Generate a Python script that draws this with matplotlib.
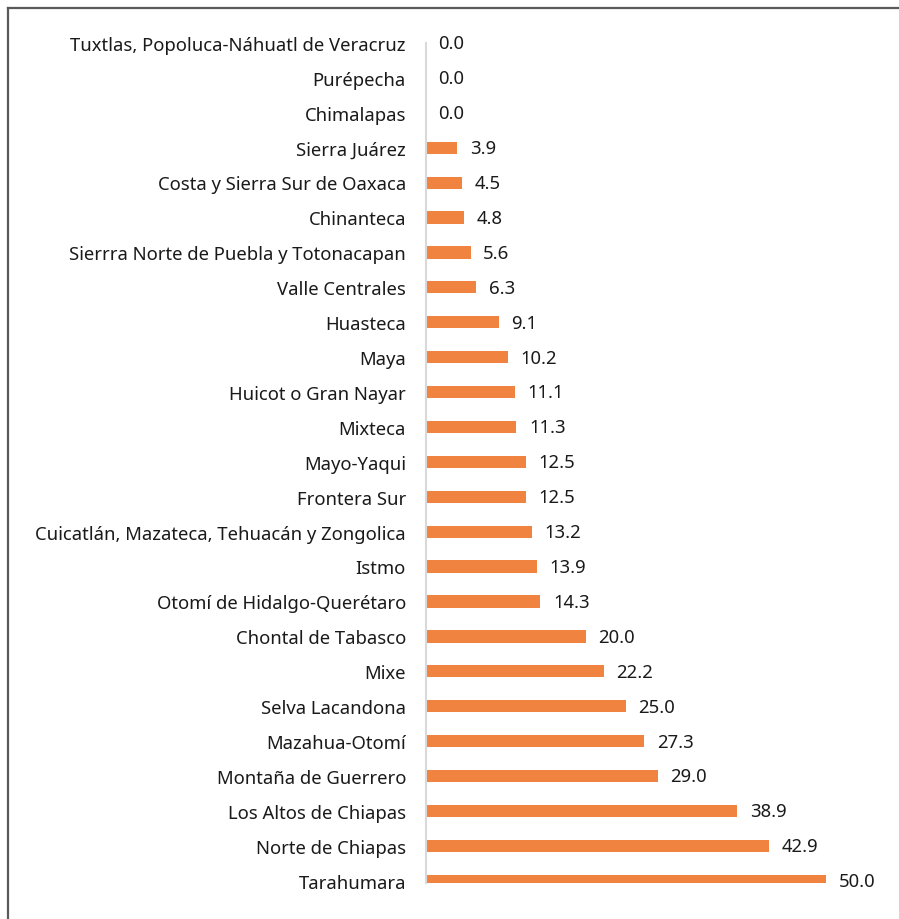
import matplotlib.pyplot as plt
import matplotlib.transforms as mtransforms
from matplotlib.lines import Line2D

plt.rcParams['font.family'] = ['Noto Sans', 'DejaVu Sans']

# Regions, listed bottom to top
regiones = [
    'Tarahumara', 'Norte de Chiapas', 'Los Altos de Chiapas', 'Montaña de Guerrero',
    'Mazahua-Otomí', 'Selva Lacandona', 'Mixe', 'Chontal de Tabasco',
    'Otomí de Hidalgo-Querétaro', 'Istmo', 'Cuicatlán, Mazateca, Tehuacán y Zongolica',
    'Frontera Sur', 'Mayo-Yaqui', 'Mixteca', 'Huicot o Gran Nayar', 'Maya',
    'Huasteca', 'Valle Centrales', 'Sierrra Norte de Puebla y Totonacapan',
    'Chinanteca', 'Costa y Sierra Sur de Oaxaca', 'Sierra Juárez', 'Chimalapas',
    'Purépecha', 'Tuxtlas, Popoluca-Náhuatl de Veracruz',
]
valores = [50.0, 42.9, 38.9, 29.0, 27.3, 25.0, 22.2, 20.0, 14.3, 13.9, 13.2,
           12.5, 12.5, 11.3, 11.1, 10.2, 9.1, 6.3, 5.6, 4.8, 4.5, 3.9, 0.0, 0.0, 0.0]

W, H = 899, 919
fig = plt.figure(figsize=(W / 100, H / 100), dpi=100)
ax = fig.add_axes([426 / W, 1 - 882.5 / H, 400 / W, (882.5 - 43) / H])

y = range(len(regiones))
ax.barh(y, valores, height=0.35, color='#F0833F')

for yi, v in zip(y, valores):
    ax.annotate(f'{v:.1f}', (v, yi), xytext=(9, -1), textcoords='offset points',
                va='center', ha='left', fontsize=13.3, color='#1a1a1a',
                annotation_clip=False)

ax.set_xlim(0, 50)
ax.set_ylim(-0.05, 24.0)
ax.set_yticks(list(y))
ax.set_yticklabels(regiones, fontsize=13.3, color='#1a1a1a')
ax.tick_params(axis='y', length=0, pad=14.4)
# nudge category labels down a little so they sit level with the bars
shift = mtransforms.ScaledTranslation(0, -0.6 / 72, fig.dpi_scale_trans)
for lbl in ax.get_yticklabels():
    lbl.set_transform(lbl.get_transform() + shift)
ax.set_xticks([])
for s in ['top', 'right', 'bottom']:
    ax.spines[s].set_visible(False)
ax.spines['left'].set_color('#d9d9d9')
ax.spines['left'].set_linewidth(1.5)

# outer frame: left and top edges
fig.add_artist(Line2D([7.5 / W, 7.5 / W], [0, 1 - 8 / H], color='#5a5a5a', lw=1.6))
fig.add_artist(Line2D([7.5 / W, 1], [1 - 8 / H, 1 - 8 / H], color='#5a5a5a', lw=1.6))

fig.savefig('out.png', dpi=100)
